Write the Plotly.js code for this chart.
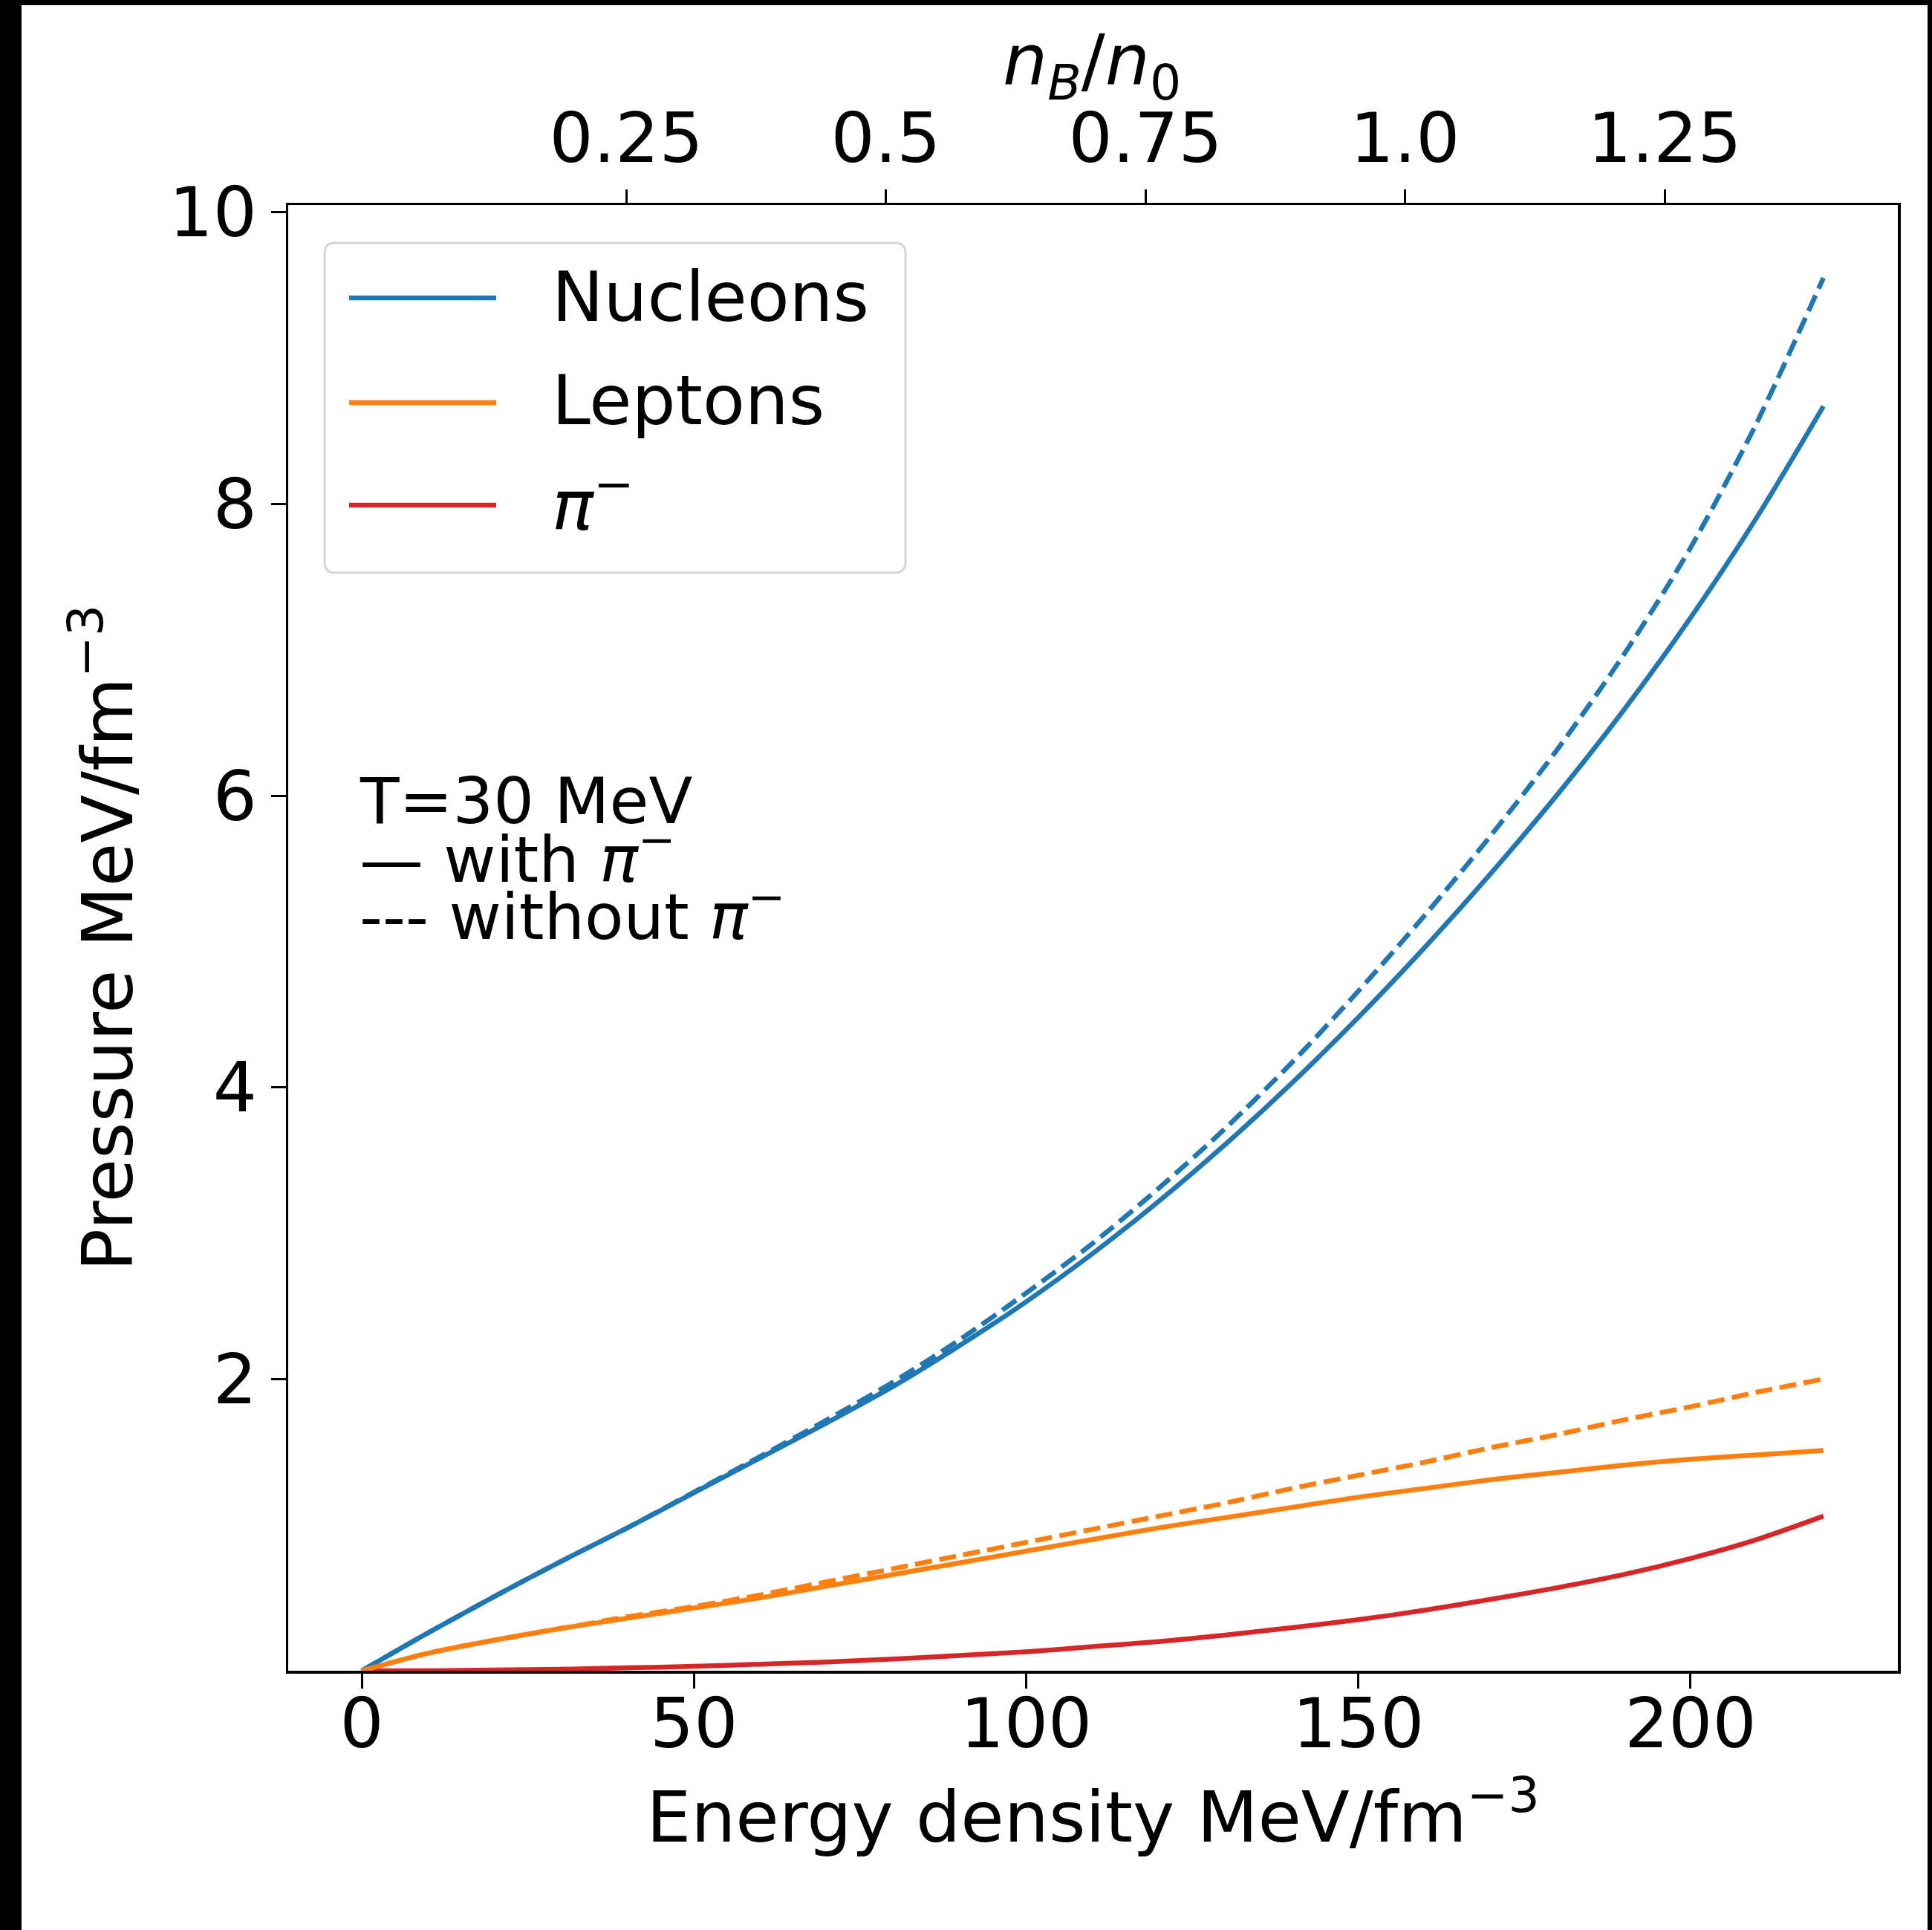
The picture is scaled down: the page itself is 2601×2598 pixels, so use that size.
<!DOCTYPE html>
<html>
<head>
<meta charset="utf-8">
<script src="https://cdn.plot.ly/plotly-3.0.1.min.js"></script>
<style>
  html, body { margin: 0; padding: 0; background: #000; width: 2601px; height: 2598px; overflow: hidden; }
  #chart { position: absolute; left: 29px; top: 7px; width: 2566px; height: 2591px; background: #fff; }
</style>
</head>
<body>
<div id="chart"></div>
<script>
// ---------------- data ----------------
const energy = [0, 10, 20, 30, 40, 50, 60, 70, 80, 90, 100, 110, 120, 130, 140, 150, 160, 170, 180, 190, 200, 210, 220];

const nucleonsWithPi    = [0, 0.26, 0.51, 0.75, 0.98, 1.22, 1.46, 1.70, 1.95, 2.23, 2.53, 2.86, 3.22, 3.61, 4.03, 4.48, 4.96, 5.47, 6.01, 6.59, 7.22, 7.91, 8.67];
const nucleonsWithoutPi = [0, 0.26, 0.51, 0.75, 0.98, 1.225, 1.47, 1.72, 1.98, 2.27, 2.59, 2.93, 3.31, 3.72, 4.17, 4.66, 5.18, 5.73, 6.32, 6.97, 7.70, 8.56, 9.55];
const leptonsWithPi     = [0, 0.12, 0.21, 0.29, 0.36, 0.43, 0.50, 0.58, 0.66, 0.74, 0.82, 0.90, 0.98, 1.05, 1.12, 1.19, 1.25, 1.31, 1.36, 1.41, 1.45, 1.48, 1.51];
const leptonsWithoutPi  = [0, 0.12, 0.21, 0.29, 0.37, 0.44, 0.52, 0.61, 0.70, 0.79, 0.88, 0.97, 1.06, 1.15, 1.25, 1.34, 1.43, 1.53, 1.62, 1.72, 1.81, 1.91, 2.00];
const pionWithPi        = [0, 0.0, 0.005, 0.01, 0.02, 0.03, 0.045, 0.06, 0.08, 0.105, 0.13, 0.165, 0.20, 0.245, 0.295, 0.35, 0.415, 0.49, 0.57, 0.66, 0.77, 0.90, 1.06];

const seriesNames  = ['Nucleons', 'Leptons', '<i>π</i><sup>−</sup>'];
const seriesColors = ['#1f77b4', '#ff7f0e', '#d62728'];

const nBLimits     = [0, 1.404];              // n_B/n_0 spanned by the curves
const nBTicks      = [0.25, 0.5, 0.75, 1.0, 1.25];
const nBTickLabels = ['0.25', '0.5', '0.75', '1.0', '1.25'];
const energyTicks  = [0, 50, 100, 150, 200];
const pressureTicks = [2, 4, 6, 8, 10];

const topAxisTitle = '<i>n</i><sub><i>B</i></sub>/<i>n</i><sub>0</sub>';
const noteLines = ['T=30 MeV', '— with <i>π</i><sup>−</sup>', '--- without <i>π</i><sup>−</sup>'];

// ---------------- layout helpers ----------------
const DIV_L = 29, DIV_T = 7;
const M = { l: 359, r: 40, t: 269, b: 349 };
const W = 2566 - M.l - M.r, H = 2591 - M.t - M.b;
const PX = xp => (xp - DIV_L - M.l) / W;            // page x -> paper
const PY = yp => (DIV_T + M.t + H - yp) / H;        // page y -> paper

const FONT = 'DejaVu Sans, Verdana, sans-serif';
const LW = 6.5;
const DASH = '23px,10px';
const SM = 0.8;

function lineTrace(y, color, dash, name) {
  const line = { color: color, width: LW, shape: 'spline', smoothing: SM };
  if (dash) line.dash = dash;
  return { x: energy, y: y, mode: 'lines', line: line, name: name, showlegend: false };
}

const traces = [
  lineTrace(nucleonsWithPi, seriesColors[0], null, 'Nucleons'),
  lineTrace(leptonsWithPi, seriesColors[1], null, 'Leptons'),
  lineTrace(pionWithPi, seriesColors[2], null, 'π−'),
  lineTrace(nucleonsWithoutPi, seriesColors[0], DASH, 'Nucleons (without π−)'),
  lineTrace(leptonsWithoutPi, seriesColors[1], DASH, 'Leptons (without π−)'),
  // invisible trace that carries the top n_B/n_0 axis
  { x: nBLimits, y: [0, 0], xaxis: 'x2', yaxis: 'y', mode: 'lines', line: { width: 0, color: 'rgba(0,0,0,0)' }, hoverinfo: 'skip', showlegend: false }
];

// legend box (rounded) drawn by hand to match the reference
const lx0 = PX(437), lx1 = PX(1219), ly0 = PY(771), ly1 = PY(327);
const rx = 14 / W, ry = 14 / H;
const boxPath = `M ${lx0 + rx},${ly1} L ${lx1 - rx},${ly1} Q ${lx1},${ly1} ${lx1},${ly1 - ry} L ${lx1},${ly0 + ry} Q ${lx1},${ly0} ${lx1 - rx},${ly0} L ${lx0 + rx},${ly0} Q ${lx0},${ly0} ${lx0},${ly0 + ry} L ${lx0},${ly1 - ry} Q ${lx0},${ly1} ${lx0 + rx},${ly1} Z`;

const shapes = [
  { type: 'path', xref: 'paper', yref: 'paper', path: boxPath, line: { color: '#d6d6d6', width: 3 }, fillcolor: 'rgba(255,255,255,0.8)', layer: 'above' }
];
const annotations = [];
const legendRows = [401, 542, 680];
const legendTextShift = [-1, -3, -6];
seriesNames.forEach((nm, i) => {
  shapes.push({ type: 'line', xref: 'paper', yref: 'paper', x0: PX(470), x1: PX(668), y0: PY(legendRows[i]), y1: PY(legendRows[i]),
                line: { color: seriesColors[i], width: LW }, layer: 'above' });
  annotations.push({ xref: 'paper', yref: 'paper', x: PX(741), y: PY(legendRows[i] + legendTextShift[i]), xanchor: 'left', yanchor: 'middle',
                     text: nm, showarrow: false, font: { family: FONT, size: 93, color: '#000' } });
});
const noteRows = [1078, 1151, 1228];
noteLines.forEach((t, i) => {
  annotations.push({ xref: 'paper', yref: 'paper', x: PX(482), y: PY(noteRows[i]), xanchor: 'left', yanchor: 'middle',
                     text: t, showarrow: false, font: { family: FONT, size: 86, color: '#000' } });
});
// title of the top (n_B/n_0) axis
annotations.push({ xref: 'paper', yref: 'paper', x: PX(1470), y: PY(88), xanchor: 'center', yanchor: 'middle',
                   text: topAxisTitle, showarrow: false, font: { family: FONT, size: 95, color: '#000' } });

const axisCommon = {
  showgrid: false, zeroline: false, showline: true, linecolor: '#000', linewidth: 3.5,
  ticks: 'outside', ticklen: 20, tickwidth: 3, tickcolor: '#000',
  tickfont: { family: FONT, size: 93, color: '#000' }
};

const layout = {
  width: 2566, height: 2591,
  margin: M,
  paper_bgcolor: '#fff', plot_bgcolor: '#fff',
  font: { family: FONT, color: '#000' },
  showlegend: false,
  hovermode: false,
  xaxis: Object.assign({}, axisCommon, {
    range: [-11.07, 231.2], tickvals: energyTicks, mirror: true, ticklabelstandoff: -32,
    title: { text: 'Energy density MeV/fm<sup>−3</sup>', font: { family: FONT, size: 95, color: '#000' }, standoff: 40 }
  }),
  xaxis2: Object.assign({}, axisCommon, {
    overlaying: 'x', side: 'top', anchor: 'y', showline: false,
    range: [-0.0755, 1.4746], tickvals: nBTicks, ticktext: nBTickLabels
  }),
  yaxis: Object.assign({}, axisCommon, {
    range: [0, 10.05], tickvals: pressureTicks, mirror: true,
    title: { text: 'Pressure MeV/fm<sup>−3</sup>', font: { family: FONT, size: 95, color: '#000' }, standoff: 18 }
  }),
  shapes: shapes,
  annotations: annotations
};

Plotly.newPlot('chart', traces, layout, { staticPlot: true, displayModeBar: false });
</script>
</body>
</html>
